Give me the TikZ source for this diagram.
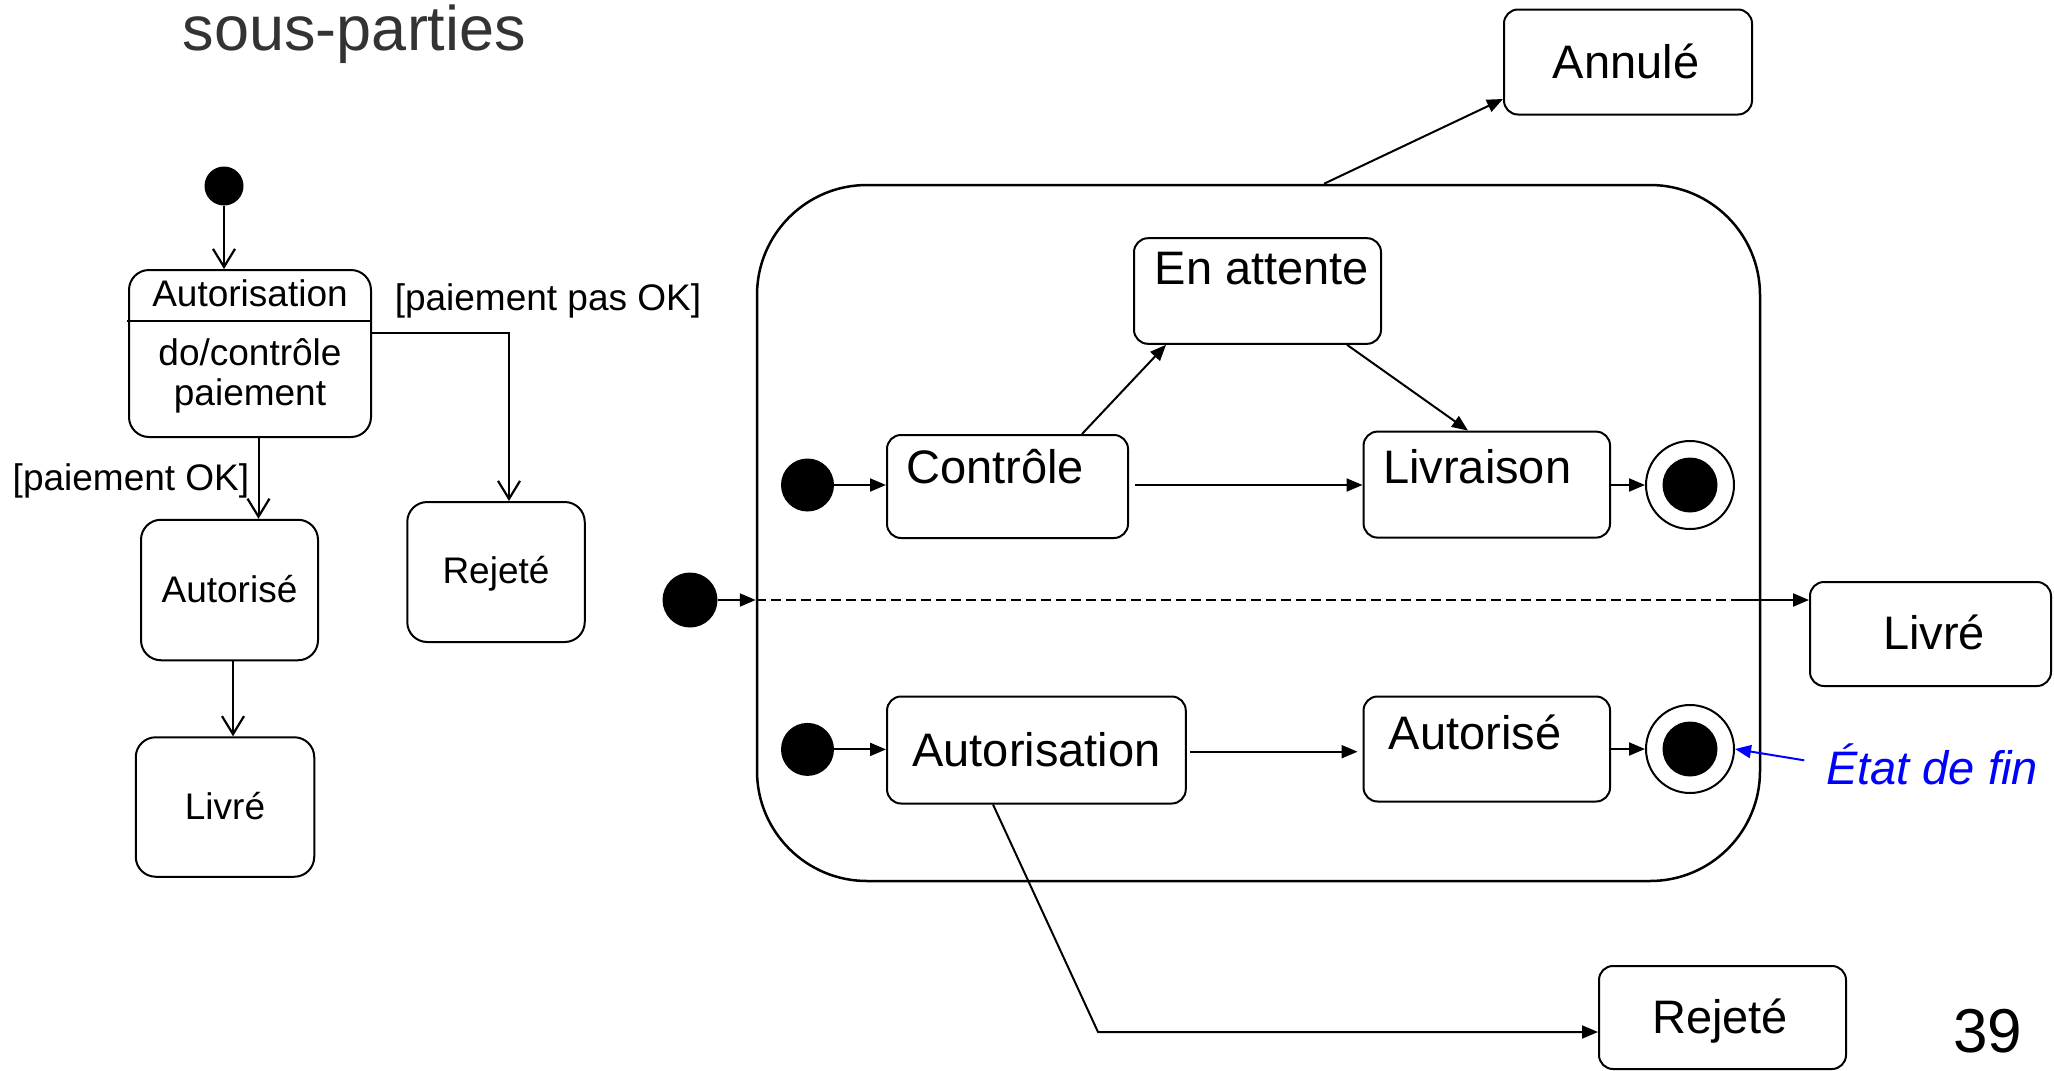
\documentclass[tikz,border=0pt]{standalone}
\usepackage{fontspec}
\setmainfont{Liberation Sans}
\usetikzlibrary{arrows.meta,calc}
\definecolor{titlegray}{HTML}{333333}
\begin{document}
\begin{tikzpicture}[x=1pt,y=-1pt,
  box/.style={draw,line width=2pt,rounded corners=14pt,inner sep=0pt},
  lbox/.style={draw,line width=2pt,rounded corners=20pt,inner sep=0pt},
  ltxt/.style={font=\fontsize{37}{44}\selectfont,inner sep=0pt},
  rtxt/.style={font=\fontsize{47}{56}\selectfont,inner sep=0pt},
  dot/.style={circle,fill=black,inner sep=0pt},
  fin/.style={circle,draw,line width=2pt,minimum size=88pt,inner sep=0pt},
  openarr/.style={line width=2pt,-{Straight Barb[length=18pt,width=22pt,line width=2.2pt]}},
  tri/.style={line width=2pt,-{Triangle[length=16pt,width=13pt]}},
]
\useasboundingbox (0,0) rectangle (2054,1071);

% title
\node[anchor=base,text=titlegray,font=\fontsize{63}{75}\selectfont,inner sep=0pt] (title) at (354.5,50) {sous-parties};

% ---------------- left diagram ----------------
\node[dot,minimum size=39pt] (linit) at (224,186) {};
\node[lbox,minimum width=242pt,minimum height=167pt] (laut) at (250,353.5) {};
\coordinate (cdiv) at (127,321);
\draw[line width=2pt] (cdiv) -- (laut.east |- cdiv);
\node[ltxt,anchor=base] (lautt) at (250,306) {Autorisation};
\node[ltxt,anchor=base] (ldo) at (250,365) {do/contrôle};
\node[ltxt,anchor=base] (lpai) at (250,405) {paiement};
\node[ltxt,anchor=base] (lgpas) at (548,310) {[paiement pas OK]};
\node[ltxt,anchor=base] (lgok) at (131,490) {[paiement OK]};

\node[lbox,minimum width=177.5pt,minimum height=140pt] (lrej) at (496,572) {};
\node[ltxt,anchor=base] (lrejt) at (496,583) {Rejeté};
\node[lbox,minimum width=177pt,minimum height=140.5pt] (laute) at (229.5,590) {};
\node[ltxt,anchor=base] (lautet) at (229.5,602) {Autorisé};
\node[lbox,minimum width=178.5pt,minimum height=139.5pt] (lliv) at (225,807) {};
\node[ltxt,anchor=base] (llivt) at (225,819) {Livré};

\coordinate (c1) at (509,333);
\coordinate (c2) at (258.5,0);
\coordinate (c3) at (233,0);
\draw[openarr] (linit) -- (linit |- laut.north);
\draw[openarr] (laut.east |- c1) -- (c1) -- (c1 |- lrej.north);
\draw[openarr] (laut.south -| c2) -- (laute.north -| c2);
\draw[openarr] (laute.south -| c3) -- (lliv.north -| c3);

% ---------------- right diagram ----------------
\node[draw,line width=2.5pt,rounded corners=110pt,minimum width=1003pt,minimum height=696pt,inner sep=0pt] (comp) at (1258.5,533) {};

\node[box,minimum width=248pt,minimum height=105pt] (rann) at (1628,62) {};
\node[rtxt,anchor=base] (rannt) at (1626,78.6) {Annulé};
\node[box,minimum width=241pt,minimum height=104pt] (rliv) at (1930.5,634) {};
\node[rtxt,anchor=base] (rlivt) at (1934,649) {Livré};
\node[box,minimum width=247pt,minimum height=103pt] (rrej) at (1722.5,1017.5) {};
\node[rtxt,anchor=base] (rrejt) at (1720,1033) {Rejeté};

\node[box,minimum width=247pt,minimum height=105.6pt] (ratt) at (1257.5,291) {};
\node[rtxt,anchor=base west] (rattt) at (1154.5,284.8) {En attente};
\node[box,minimum width=241pt,minimum height=103pt] (rctl) at (1007.5,486.5) {};
\node[rtxt,anchor=base west] (rctlt) at (906,483.6) {Contrôle};
\node[box,minimum width=246.5pt,minimum height=106pt] (rlivr) at (1486.8,484.6) {};
\node[rtxt,anchor=base west] (rlivrt) at (1383,483.6) {Livraison};
\node[box,minimum width=298.7pt,minimum height=107pt] (raut) at (1036.4,750) {};
\node[rtxt,anchor=base] (rautt) at (1036.5,766) {Autorisation};
\node[box,minimum width=246.5pt,minimum height=105pt] (raute) at (1486.8,749) {};
\node[rtxt,anchor=base west] (rautet) at (1388.7,749.4) {Autorisé};

\node[dot,minimum size=53pt] (ri1) at (807.5,485) {};
\node[dot,minimum size=53pt] (ri2) at (807.5,749.4) {};
\node[fin] (rf1) at (1690,485) {};
\node[dot,minimum size=55pt] (rf1i) at (rf1) {};
\node[fin] (rf2) at (1690,749) {};
\node[dot,minimum size=55pt] (rf2i) at (rf2) {};

\node[dot,minimum size=55pt] (binit) at (690,600) {};
\coordinate (dend) at (1731,600);
\draw[tri] (binit) -- (comp.west |- binit);
\draw[line width=2pt,dash pattern=on 10pt off 5pt] (comp.west |- binit) -- (dend);
\draw[tri] (dend) -- (rliv.west |- binit);

\coordinate (cann) at (1324,0);
\coordinate (cann2) at (0,99);
\draw[tri] (comp.north -| cann) -- (rann.west |- cann2);

\coordinate (c4) at (1082,0);
\coordinate (c5) at (1166,0);
\coordinate (c6) at (1347,0);
\coordinate (c7) at (1468,0);
\coordinate (c8) at (0,751.7);
\coordinate (c9) at (993,0);
\coordinate (bend) at (1098,1032);

\draw[tri] (ri1) -- (rctl.west |- ri1);
\draw[tri,shorten <=6pt] (rctl.east |- ri1) -- (rlivr.west |- ri1);
\draw[tri] (rctl.north -| c4) -- (ratt.south -| c5);
\draw[tri] (ratt.south -| c6) -- (rlivr.north -| c7);
\draw[tri] (rlivr.east |- rf1) -- (rf1);
\draw[tri] (ri2) -- (raut.west |- ri2);
\draw[tri,shorten <=3pt,shorten >=5pt] (raut.east |- c8) -- (raute.west |- c8);
\draw[tri] (raute.east |- rf2) -- (rf2);
\draw[tri] (raut.south -| c9) -- (bend) -- (rrej.west |- bend);

\node[anchor=base west,inner sep=0pt,text=blue,font=\fontsize{47}{56}\selectfont\itshape] (etat) at (1826,784) {État de fin};
\draw[blue,line width=2pt,-{Triangle[length=16pt,width=13pt]},shorten <=22pt] (etat.west) -- (rf2.east);

\node[anchor=base,inner sep=0pt,font=\fontsize{62}{74}\selectfont] (page) at (1987.5,1052) {39};
\end{tikzpicture}
\end{document}
